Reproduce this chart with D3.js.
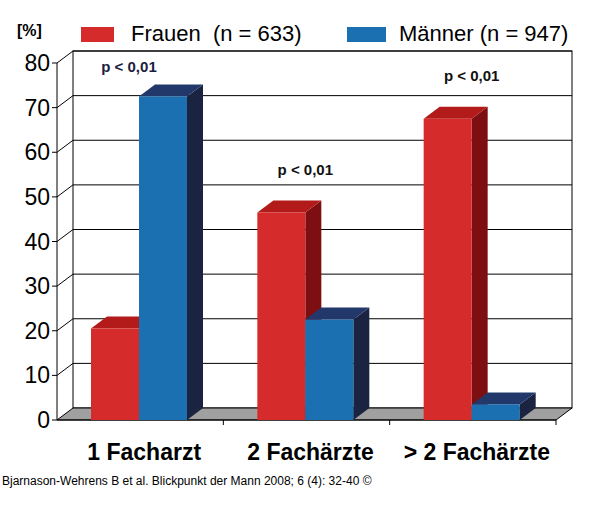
<!DOCTYPE html>
<html><head><meta charset="utf-8">
<script src="https://cdn.jsdelivr.net/npm/d3@7"></script>
<style>body{margin:0;background:#fff}</style>
</head><body><div id="chart"></div>
<script>
const categories = ["1 Facharzt", "2 Fachärzte", "> 2 Fachärzte"];
const frauen = [20.5, 46.5, 67.5];
const maenner = [72.5, 22.5, 3.5];
const pLabels = ["p < 0,01", "p < 0,01", "p < 0,01"];
const pValues = [79, 56, 77];
const yTicks = [0, 10, 20, 30, 40, 50, 60, 70, 80];

const svg = d3.select("#chart").append("svg").attr("width", 600).attr("height", 530);
const dx = 16, dy = -12;
const x0 = 57, x1 = 556;
const y = d3.scaleLinear().domain([0, 80]).range([420, 63]);
const xc = d3.scaleBand().domain(categories).range([x0, x1]);

// back wall + gridlines
svg.append("rect").attr("x", x0 + dx).attr("y", y(80) + dy).attr("width", x1 - x0)
  .attr("height", y(0) - y(80)).attr("fill", "#fff").attr("stroke", "#000");
yTicks.slice(1).forEach(t => {
  svg.append("line").attr("x1", x0 + dx).attr("x2", x1 + dx).attr("y1", y(t) + dy).attr("y2", y(t) + dy)
    .attr("stroke", "#000");
  svg.append("line").attr("x1", x0).attr("x2", x0 + dx).attr("y1", y(t)).attr("y2", y(t) + dy).attr("stroke", "#000");
});
// floor
svg.append("path").attr("d", `M${x0},${y(0)}L${x1},${y(0)}L${x1 + dx},${y(0) + dy}L${x0 + dx},${y(0) + dy}Z`)
  .attr("fill", "#a0a0a0").attr("stroke", "#000");

// axis
svg.append("line").attr("x1", x0).attr("x2", x0).attr("y1", y(0)).attr("y2", y(80)).attr("stroke", "#000");
svg.append("line").attr("x1", x0).attr("x2", x1).attr("y1", y(0)).attr("y2", y(0)).attr("stroke", "#000");
yTicks.forEach(t => {
  svg.append("line").attr("x1", x0 - 5).attr("x2", x0).attr("y1", y(t)).attr("y2", y(t)).attr("stroke", "#000");
  svg.append("text").attr("x", x0 - 7).attr("y", y(t) + 8).attr("text-anchor", "end")
    .attr("font-family", "Liberation Sans, Arial").attr("font-size", 23).text(t);
});
categories.forEach((c, i) => {
  svg.append("line").attr("x1", xc(c) + xc.bandwidth()).attr("x2", xc(c) + xc.bandwidth())
    .attr("y1", y(0)).attr("y2", y(0) + 5).attr("stroke", "#000");
});

const colors = [
  { front: "#d52b2b", top: "#b31a1a", side: "#7d0f12" },
  { front: "#1a70b0", top: "#22386a", side: "#1a2440" }
];
const bw = 48;
function bar(xp, v, col) {
  const yt = y(v), yb = y(0);
  svg.append("path").attr("d", `M${xp + bw},${yt}L${xp + bw + dx},${yt + dy}L${xp + bw + dx},${yb + dy}L${xp + bw},${yb}Z`)
    .attr("fill", col.side);
  svg.append("path").attr("d", `M${xp},${yt}L${xp + dx},${yt + dy}L${xp + bw + dx},${yt + dy}L${xp + bw},${yt}Z`)
    .attr("fill", col.top);
  svg.append("rect").attr("x", xp).attr("y", yt).attr("width", bw).attr("height", yb - yt).attr("fill", col.front);
}
categories.forEach((c, i) => {
  const gx = xc(c) + 34;
  bar(gx, frauen[i], colors[0]);
  bar(gx + bw, maenner[i], colors[1]);
  svg.append("text").attr("x", gx + bw + (i === 0 ? -10 : 0)).attr("y", y(pValues[i]) + 5)
    .attr("text-anchor", "middle").attr("font-family", "Liberation Sans, Arial").attr("font-weight", "bold")
    .attr("font-size", 15).attr("fill", i === 0 ? "#1c2040" : "#111").text(pLabels[i]);
  svg.append("text").attr("x", xc(c) + xc.bandwidth() / 2 + 4).attr("y", 460).attr("text-anchor", "middle")
    .attr("font-family", "Liberation Sans, Arial").attr("font-weight", "bold").attr("font-size", 23).text(c);
});

// legend
svg.append("text").attr("x", 17).attr("y", 36).attr("font-family", "Liberation Sans, Arial")
  .attr("font-weight", "bold").attr("font-size", 16).text("[%]");
svg.append("rect").attr("x", 81).attr("y", 27).attr("width", 33).attr("height", 15).attr("fill", colors[0].front);
svg.append("text").attr("x", 131).attr("y", 41).attr("font-family", "Liberation Sans, Arial").attr("font-size", 22)
  .attr("xml:space", "preserve").text("Frauen  (n = 633)");
svg.append("rect").attr("x", 347).attr("y", 27).attr("width", 39).attr("height", 15).attr("fill", colors[1].front);
svg.append("text").attr("x", 399).attr("y", 41).attr("font-family", "Liberation Sans, Arial").attr("font-size", 22)
  .text("Männer (n = 947)");

svg.append("text").attr("x", 2).attr("y", 485).attr("font-family", "Liberation Sans, Arial").attr("font-size", 12)
  .text("Bjarnason-Wehrens B et al. Blickpunkt der Mann 2008; 6 (4): 32-40 ©");
</script></body></html>
